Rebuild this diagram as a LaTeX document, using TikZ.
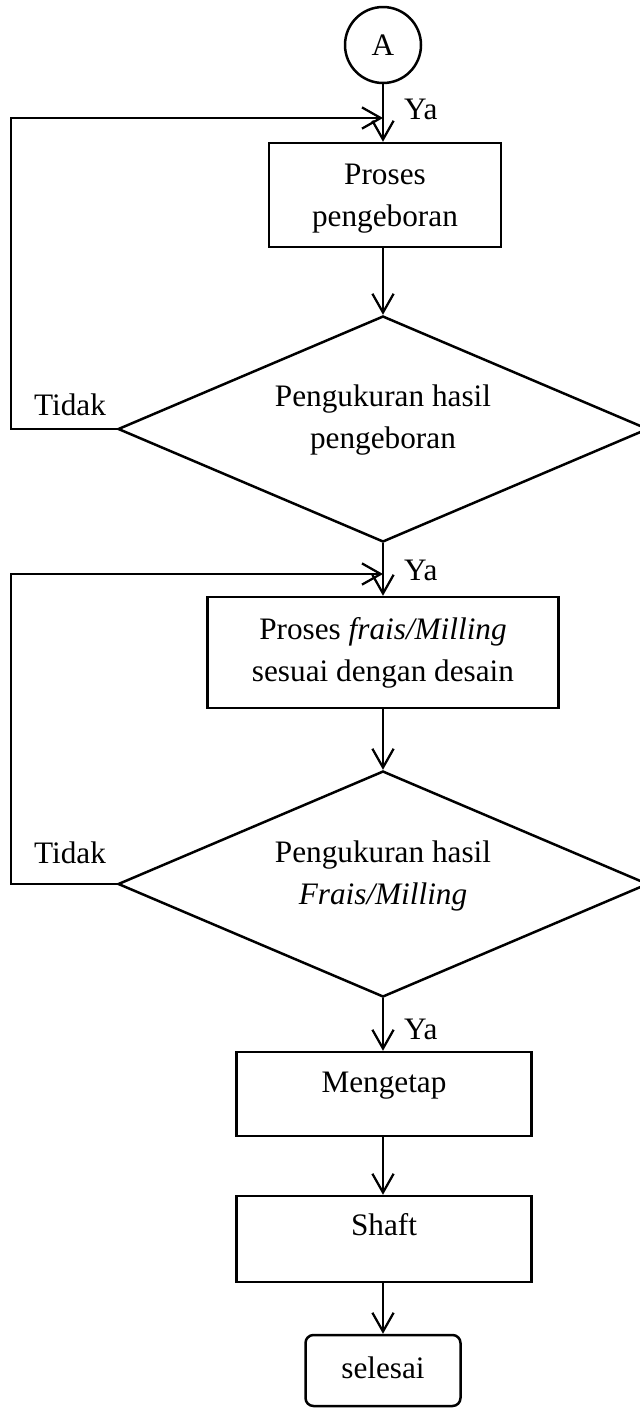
\documentclass[tikz,border=0pt]{standalone}
\usepackage{fontspec}
\setmainfont{Liberation Serif}
\usetikzlibrary{shapes.geometric,arrows.meta}
\begin{document}
\begin{tikzpicture}[x=0.4pt,y=-0.4pt,
  font=\fontsize{12.5}{16.8}\selectfont,
  line width=0.9pt,
  arr/.style={-{Straight Barb[length=7.5pt,width=8.5pt,line width=0.9pt]}},
  procbox/.style={draw, rectangle, inner sep=0pt, line width=1pt},
  endbox/.style={draw, rectangle, rounded corners=3.2pt, inner sep=0pt, line width=1pt},
  decis/.style={draw, diamond, inner sep=0pt, line width=1pt},
  lbl/.style={inner sep=0pt, align=center},
]
\useasboundingbox (0,0) rectangle (640,1408);
% nodes
\node[draw, circle, minimum size=30.4pt, inner sep=0pt, line width=1pt] (A) at (383,45) {A};
\node[procbox, minimum width=92.8pt, minimum height=41.6pt] (b1) at (385,195) {};
\node[lbl] (t1) at (385,199) {Proses\\pengeboran};
\node[decis, minimum width=212pt, minimum height=90.4pt] (d1) at (383,429) {};
\node[lbl] (t2) at (383,420) {Pengukuran hasil\\pengeboran};
\node[procbox, minimum width=140.4pt, minimum height=44.4pt] (b2) at (383,652.5) {};
\node[lbl] (t3) at (383,653) {Proses \textit{frais/Milling}\\sesuai dengan desain};
\node[decis, minimum width=212pt, minimum height=90.4pt] (d2) at (383,884) {};
\node[lbl] (t4) at (383,876) {Pengukuran hasil\\\textit{Frais/Milling}};
\node[procbox, minimum width=118pt, minimum height=33.6pt] (b3) at (384,1094) {};
\node[lbl, anchor=base] (t5) at (384,1092) {Mengetap};
\node[procbox, minimum width=118pt, minimum height=34.4pt] (b4) at (384,1239) {};
\node[lbl, anchor=base] (t6) at (384,1235) {Shaft};
\node[endbox, minimum width=62pt, minimum height=28.4pt] (sel) at (383,1370.5) {};
\node[lbl, anchor=base] (t7) at (383,1378) {selesai};
% labels
\node[lbl, anchor=base west] (ya1) at (403,119) {Ya};
\node[lbl, anchor=base west] (ya2) at (403,580) {Ya};
\node[lbl, anchor=base west] (ya3) at (403,1039) {Ya};
\node[lbl, anchor=base west] (td1) at (33,415) {Tidak};
\node[lbl, anchor=base west] (td2) at (33,863) {Tidak};
% junctions
\coordinate (j1) at (383,118);
\coordinate (j2) at (383,574);
% connectors
\draw[arr] (A.south) -- (A.south |- b1.north);
\draw[arr] (d1.north |- b1.south) -- (d1.north);
\draw[arr] (d1.south) -- (d1.south |- b2.north);
\draw[arr] (d2.north |- b2.south) -- (d2.north);
\draw[arr] (d2.south) -- (d2.south |- b3.north);
\draw[arr] (d2.south |- b3.south) -- (d2.south |- b4.north);
\draw[arr] (d2.south |- b4.south) -- (sel.north);
\draw[arr] (d1.west) -- ++(-106,0) |- (j1);
\draw[arr] (d2.west) -- ++(-106,0) |- (j2);
\end{tikzpicture}
\end{document}
